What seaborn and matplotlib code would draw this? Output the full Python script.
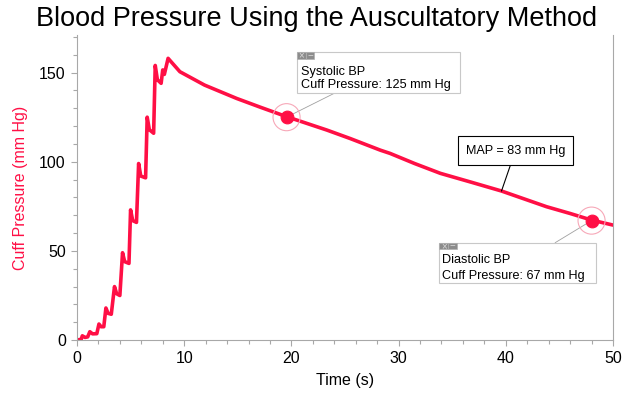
import pandas as pd
import matplotlib.pyplot as plt
import seaborn as sns
from matplotlib.patches import Rectangle
from matplotlib.ticker import MultipleLocator

# cuff pressure (inflation steps, then slow deflation)
time_s = [0, 0.4, 0.5, 0.75, 1.0, 1.2, 1.45, 1.85, 2.05, 2.25, 2.5, 2.7, 2.9, 3.2,
          3.5, 3.7, 4.0, 4.25, 4.45, 4.85, 5.0, 5.2, 5.55, 5.75, 5.95, 6.4, 6.55,
          6.75, 7.15, 7.3, 7.5, 7.85, 8.0, 8.15, 8.5,
          9.6, 11.9, 14.9, 17.1, 19.55, 23.3, 25.5, 28.3, 29.2, 31.5, 33.9, 36.8,
          39.6, 43.8, 46.0, 48.0, 50.0]
pressure = [0, 0.5, 2.4, 1.5, 1.8, 4.7, 3.5, 3.6, 9, 7.5, 7.5, 18, 15, 14.5,
            30, 26, 25, 49, 44, 43, 73, 67, 66, 99, 92, 91, 125,
            118, 116, 154, 146, 144, 151.5, 149, 158,
            150.5, 143, 135.5, 130.6, 125.3, 117.8, 113, 106.5, 104.7, 99.0, 93.5, 88.5,
            83.6, 74.8, 71.0, 67.3, 64.5]

systolic = (19.55, 125)
diastolic = (48.0, 67)
map_point = (39.6, 83.6)
map_value = 83

red = '#FF0F45'
grey = '#A8A8A8'

df = pd.DataFrame({'Time (s)': time_s, 'Cuff Pressure (mm Hg)': pressure})
marks = pd.DataFrame({'t': [systolic[0], diastolic[0]], 'p': [systolic[1], diastolic[1]]})

sns.set_style('white')
plt.rcParams['font.family'] = ['Liberation Sans', 'DejaVu Sans']
plt.rcParams['text.color'] = 'black'
plt.rcParams['axes.labelcolor'] = 'black'
plt.rcParams['xtick.color'] = 'black'
plt.rcParams['ytick.color'] = 'black'

fig = plt.figure(figsize=(6.33, 3.95), dpi=100)
ax = fig.add_axes([0.1216, 0.139, 0.8468, 0.772])

sns.lineplot(data=df, x='Time (s)', y='Cuff Pressure (mm Hg)', color=red, linewidth=2.6,
             ax=ax, sort=False)
sns.scatterplot(data=marks, x='t', y='p', s=380, facecolor='none', edgecolor='#F7A8B8',
                linewidth=0.8, ax=ax, zorder=4)
sns.scatterplot(data=marks, x='t', y='p', s=85, color=red, edgecolor=red, ax=ax, zorder=5)

ax.set_xlim(0, 50)
ax.set_ylim(0, 171)
ax.xaxis.set_major_locator(MultipleLocator(10))
ax.xaxis.set_minor_locator(MultipleLocator(2))
ax.yaxis.set_major_locator(MultipleLocator(50))
ax.yaxis.set_minor_locator(MultipleLocator(10))
ax.tick_params(which='major', length=4.5, width=0.8, color=grey, labelcolor='black',
               labelsize=11.5, direction='out', bottom=True, left=True)
ax.tick_params(which='minor', length=3, width=0.8, color=grey, direction='out',
               bottom=True, left=True)
for side in ['left', 'bottom', 'right']:
    ax.spines[side].set_color(grey)
    ax.spines[side].set_linewidth(0.8)
ax.spines['top'].set_visible(False)

ax.set_xlabel('Time (s)', fontsize=11.5, labelpad=5, color='black')
ax.set_ylabel('Cuff Pressure (mm Hg)', fontsize=11.5, color=red, labelpad=8)
fig.suptitle('Blood Pressure Using the Auscultatory Method', fontsize=19.5, y=0.985,
             color='black')


def info_box(x0, x1, y0, y1, lines, tx, ty, leader):
    ax.add_patch(Rectangle((x0, y0), x1 - x0, y1 - y0, facecolor='white',
                           edgecolor='#C8C8C8', linewidth=0.8, zorder=6))
    ih = 3.6
    ax.add_patch(Rectangle((x0, y1 - ih), 0.82, ih, facecolor='#8C8C8C',
                           edgecolor='#B0B0B0', linewidth=0.5, zorder=7))
    ax.add_patch(Rectangle((x0 + 0.82, y1 - ih), 0.82, ih, facecolor='#8C8C8C',
                           edgecolor='#B0B0B0', linewidth=0.5, zorder=7))
    ax.text(x0 + 0.41, y1 - ih / 2, '×', color='#D8D8D8', fontsize=7, ha='center',
            va='center', zorder=8)
    ax.text(x0 + 1.23, y1 - ih / 2, '−', color='#D8D8D8', fontsize=7, ha='center',
            va='center', zorder=8)
    for line, yy in zip(lines, ty):
        ax.text(tx, yy, line, fontsize=9.1, ha='left', va='center', zorder=8,
                color='black')
    ax.plot([leader[0][0], leader[1][0]], [leader[0][1], leader[1][1]],
            color='#A0A0A0', linewidth=0.6, zorder=3)


info_box(20.5, 35.7, 138.7, 161.3,
         ['Systolic BP', f'Cuff Pressure: {systolic[1]} mm Hg'], 20.87, [150.5, 143.0],
         [(24.1, 138.7), systolic])
info_box(33.8, 48.4, 31.8, 54.6,
         ['Diastolic BP', f'Cuff Pressure: {diastolic[1]} mm Hg'], 34.05, [44.9, 36.1],
         [(44.6, 54.6), diastolic])

ax.annotate(f'MAP = {map_value} mm Hg', xy=map_point, xytext=(40.9, 106.3),
            fontsize=9.1, ha='center', va='center', zorder=8, color='black',
            bbox=dict(boxstyle='square,pad=0.65', facecolor='white', edgecolor='black',
                      linewidth=0.8),
            arrowprops=dict(arrowstyle='-', color='black', linewidth=0.8,
                            shrinkA=0, shrinkB=0))

fig.savefig('out.png', dpi=100)
